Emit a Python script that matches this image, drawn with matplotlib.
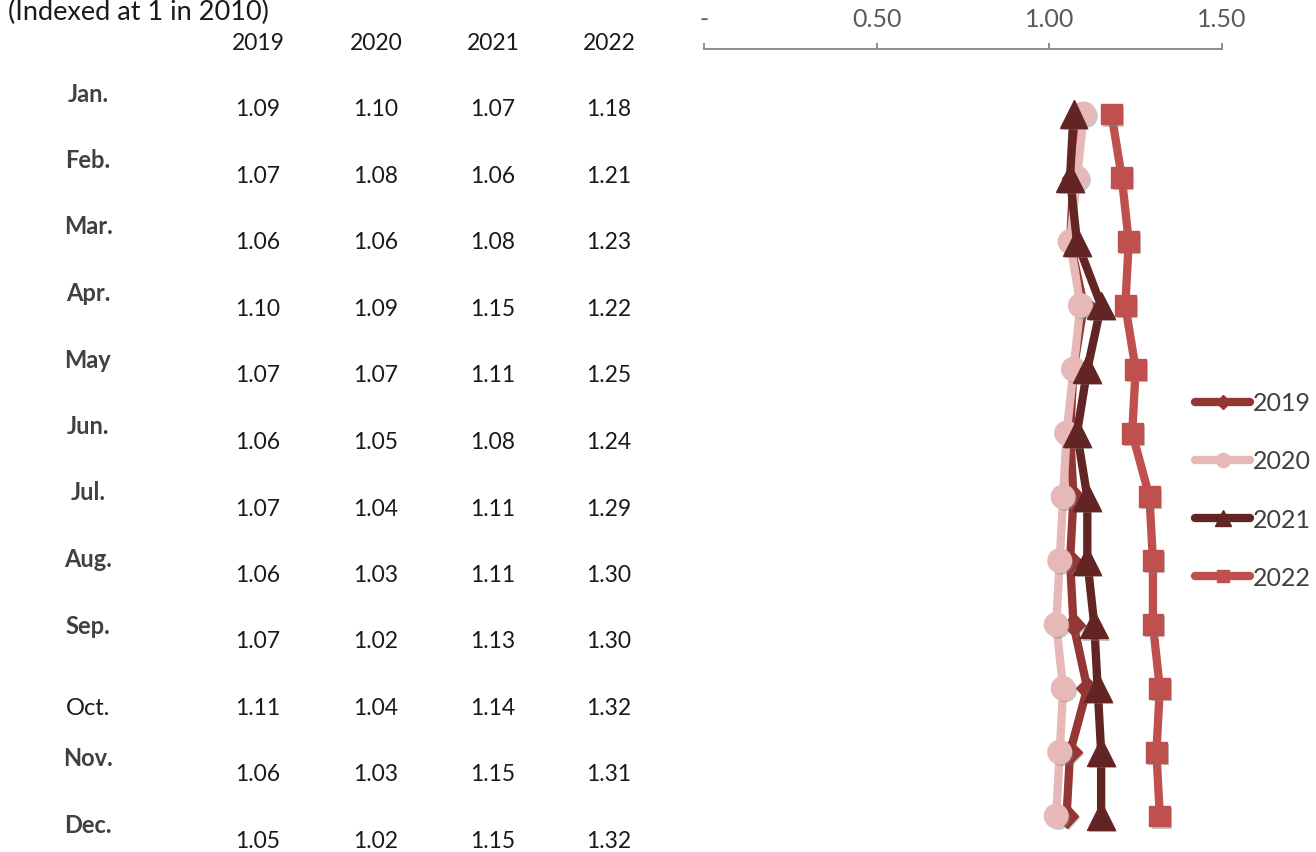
import matplotlib
matplotlib.use("Agg")
import matplotlib.pyplot as plt
import matplotlib.patheffects as pe
from matplotlib.lines import Line2D
from matplotlib.ticker import FuncFormatter

plt.rcParams['font.family'] = ['Lato', 'DejaVu Sans']

# Monthly index values (1 = 2010)
months = ['Jan.', 'Feb.', 'Mar.', 'Apr.', 'May', 'Jun.',
          'Jul.', 'Aug.', 'Sep.', 'Oct.', 'Nov.', 'Dec.']
years = ['2019', '2020', '2021', '2022']
v2019 = [1.09, 1.07, 1.06, 1.10, 1.07, 1.06, 1.07, 1.06, 1.07, 1.11, 1.06, 1.05]
v2020 = [1.10, 1.08, 1.06, 1.09, 1.07, 1.05, 1.04, 1.03, 1.02, 1.04, 1.03, 1.02]
v2021 = [1.07, 1.06, 1.08, 1.15, 1.11, 1.08, 1.11, 1.11, 1.13, 1.14, 1.15, 1.15]
v2022 = [1.18, 1.21, 1.23, 1.22, 1.25, 1.24, 1.29, 1.30, 1.30, 1.32, 1.31, 1.32]
series = [v2019, v2020, v2021, v2022]

colors = ['#943634', '#E6B9B8', '#632523', '#C0504D']
markers = ['D', 'o', '^', 's']
msizes = [12, 17, 20, 15]

W, H = 1316, 853
fig = plt.figure(figsize=(W / 100, H / 100), dpi=100, facecolor='white')


def fx(px):
    return px / W


def fy(py):
    return 1 - py / H


# Table on the left
fig.text(fx(8), fy(12), '(Indexed at 1 in 2010)', fontsize=19.5, color='#1a1a1a',
         ha='left', va='center')
col_x = [258, 376, 493, 609]
for cx, yr in zip(col_x, years):
    fig.text(fx(cx), fy(43), yr, fontsize=16.5, color='#1a1a1a', ha='center', va='center')

for i, m in enumerate(months):
    row_y = 110 + i * 66.5
    if m == 'Oct.':
        fig.text(fx(88), fy(row_y), m, fontsize=17, color='#1a1a1a',
                 ha='center', va='center')
    else:
        fig.text(fx(88), fy(row_y - 16), m, fontsize=17, fontweight='bold',
                 color='#404040', ha='center', va='center')
    for cx, vals in zip(col_x, series):
        fig.text(fx(cx), fy(row_y), f'{vals[i]:.2f}', fontsize=16.5, color='#1a1a1a',
                 ha='center', va='center')

# Line chart on the right
x0, x1, y_top = 704, 1222, 50
ax = fig.add_axes([fx(x0), 0, (x1 - x0) / W, fy(y_top)])
ypos = list(range(len(months)))
unit = (817 - 115) / 11
ax.set_ylim(11 + (H - 817) / unit, -(115 - y_top) / unit)
ax.set_xlim(0, 1.5)

shadow = [pe.SimplePatchShadow(offset=(1.5, -1.5), shadow_rgbFace='#7f7f7f', alpha=0.45),
          pe.Normal()]
for k, (vals, c, mk, ms) in enumerate(zip(series, colors, markers, msizes)):
    ax.plot(vals, ypos, color=c, lw=6, solid_joinstyle='round', zorder=2 + k)
    ax.plot(vals, ypos, ls='none', marker=mk, ms=ms, color=c, mec=c,
            zorder=2 + k + 0.5, path_effects=shadow)

for s in ['bottom', 'left', 'right']:
    ax.spines[s].set_visible(False)
ax.spines['top'].set_color('#868686')
ax.spines['top'].set_linewidth(1.3)
ax.xaxis.set_ticks_position('top')
ax.set_xticks([0, 0.5, 1.0, 1.5])
ax.xaxis.set_major_formatter(FuncFormatter(lambda v, p: '-' if v == 0 else f'{v:.2f}'))
ax.tick_params(axis='x', direction='out', length=4.5, width=1.3, color='#868686',
               labelsize=18, labelcolor='#595959', pad=9)
ax.set_yticks([])
ax.patch.set_alpha(0)

handles = [Line2D([], [], color=c, lw=6, solid_capstyle='round', marker=mk,
                  ms=ms * 0.6, mec=c) for c, mk, ms in zip(colors, markers, msizes)]
fig.legend(handles, years, loc='center left', bbox_to_anchor=(fx(1195), fy(491)),
           frameon=False, fontsize=18, labelcolor='#404040', handlelength=2.2,
           handletextpad=0.1, labelspacing=1.4, borderpad=0, borderaxespad=0)

fig.savefig('out.png', dpi=100, facecolor='white')
